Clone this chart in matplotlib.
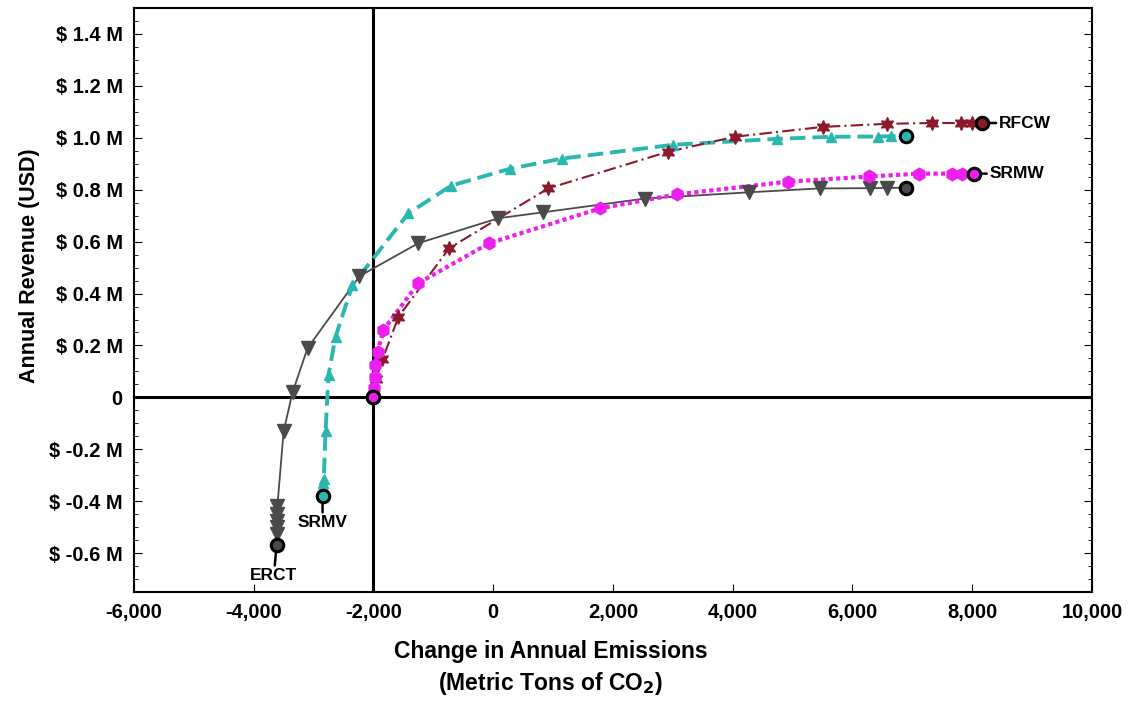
import matplotlib
matplotlib.use("Agg")
import matplotlib.pyplot as plt
from matplotlib.ticker import FixedLocator, MultipleLocator, FuncFormatter

plt.rcParams['font.family'] = ['Liberation Sans', 'DejaVu Sans']

# ERCT (gray, down triangles, solid)
erct_x = [-3617, -3615, -3612, -3610, -3608, -3605, -3500, -3350, -3100, -2233, -1250, 83, 833, 2533, 4267, 5450, 6300, 6583, 6900]
erct_y = [-0.567, -0.525, -0.50, -0.475, -0.45, -0.42, -0.13, 0.02, 0.19, 0.467, 0.594, 0.69, 0.713, 0.766, 0.79, 0.805, 0.806, 0.807, 0.808]

# SRMV (teal, dashed)
srmv_x = [-2850, -2845, -2840, -2835, -2830, -2800, -2750, -2633, -2350, -1417, -700, 283, 1150, 3000, 4733, 5650, 6433, 6650, 6900]
srmv_y = [-0.379, -0.36, -0.345, -0.33, -0.314, -0.13, 0.088, 0.234, 0.433, 0.709, 0.816, 0.881, 0.92, 0.973, 0.996, 1.004, 1.005, 1.006, 1.008]

# RFCW (dark red, dash-dot, stars)
rfcw_x = [-2000, -1960, -1850, -1583, -733, 917, 2917, 4033, 5500, 6583, 7333, 7817, 8000, 8167]
rfcw_y = [0.0, 0.07, 0.146, 0.31, 0.575, 0.805, 0.946, 1.004, 1.042, 1.054, 1.057, 1.057, 1.057, 1.057]

# SRMW (magenta, dotted)
srmw_x = [-2000, -1990, -1980, -1967, -1930, -1833, -1250, -67, 1783, 3067, 4917, 6283, 7117, 7667, 7833, 8033]
srmw_y = [0.0, 0.038, 0.08, 0.126, 0.176, 0.26, 0.44, 0.594, 0.728, 0.782, 0.831, 0.851, 0.862, 0.862, 0.862, 0.862]

x_ticks = [-6000, -4000, -2000, 0, 2000, 4000, 6000, 8000, 10000]
y_ticks = [-0.6, -0.4, -0.2, 0.0, 0.2, 0.4, 0.6, 0.8, 1.0, 1.2, 1.4]

fig = plt.figure(figsize=(11.39, 7.04), dpi=100)
ax = fig.add_axes([0.1176, 0.159, 0.8411, 0.8296])

ax.axhline(0, color='black', lw=2.2, zorder=1)
ax.axvline(-2000, color='black', lw=2.2, zorder=1)

star6 = (6, 1, 0)
series = [
    ("ERCT", erct_x, erct_y, '#4a4a4a', '-', 1.3, 'v', 10.5),
    ("SRMV", srmv_x, srmv_y, '#2ab7b0', (0, (4, 1.8)), 2.8, '^', 7.5),
    ("RFCW", rfcw_x, rfcw_y, '#8b1a2b', (0, (6, 2, 1, 2)), 1.5, star6, 10),
    ("SRMW", srmw_x, srmw_y, '#ee1fee', (0, (1, 0.8)), 3.0, 'h', 9),
]
for name, xs, ys, col, ls, lw, mk, ms in series:
    ax.plot(xs, ys, linestyle=ls, lw=lw, color=col, zorder=2)
    ax.plot(xs[1:-1], ys[1:-1], linestyle='none', marker=mk, ms=ms, color=col, zorder=3)
    ax.plot([xs[0], xs[-1]], [ys[0], ys[-1]], 'o', ms=9, mfc=col, mec='black', mew=2.2,
            linestyle='none', zorder=4 if name != "SRMW" else 5)

lab_kw = dict(fontsize=12.5, fontweight='bold', textcoords='offset points',
              arrowprops=dict(arrowstyle='-', lw=1.8, color='black', shrinkA=0, shrinkB=3))
ax.annotate("ERCT", xy=(erct_x[0], erct_y[0]), xytext=(-2, -17), ha='center', va='top', **lab_kw)
ax.annotate("SRMV", xy=(srmv_x[0], srmv_y[0]), xytext=(0, -14), ha='center', va='top', **lab_kw)
ax.annotate("RFCW", xy=(rfcw_x[-1], rfcw_y[-1]), xytext=(12, 0), ha='left', va='center', **lab_kw)
ax.annotate("SRMW", xy=(srmw_x[-1], srmw_y[-1]), xytext=(11, 0), ha='left', va='center', **lab_kw)

ax.set_xlim(-6000, 10000)
ax.set_ylim(-0.75, 1.5)
ax.xaxis.set_major_locator(FixedLocator(x_ticks))
ax.yaxis.set_major_locator(FixedLocator(y_ticks))
ax.yaxis.set_minor_locator(MultipleLocator(0.05))
ax.xaxis.set_major_formatter(FuncFormatter(lambda v, p: f"{v:,.0f}"))
ax.yaxis.set_major_formatter(FuncFormatter(lambda v, p: "0" if abs(v) < 1e-9 else f"$ {v:.1f} M"))
ax.tick_params(axis='both', which='both', direction='in')
ax.tick_params(axis='y', which='both', left=True, right=True)
ax.tick_params(axis='x', which='both', top=False)
ax.tick_params(axis='both', which='major', length=6, labelsize=14.5, pad=8)
ax.tick_params(axis='y', which='minor', length=3)
for lbl in ax.get_xticklabels() + ax.get_yticklabels():
    lbl.set_fontweight('bold')
for sp in ax.spines.values():
    sp.set_linewidth(1.5)

ax.set_xlabel("Change in Annual Emissions\n(Metric Tons of CO$_\\mathbf{2}$)", fontsize=16.5,
              fontweight='bold', labelpad=12, linespacing=1.35)
ax.xaxis.set_label_coords(0.435, -0.082, transform=ax.transAxes)
ax.xaxis.label.set_va('top')
ax.set_ylabel("Annual Revenue (USD)", fontsize=15.5, fontweight='bold')
ax.yaxis.set_label_coords(-0.098, 0.558, transform=ax.transAxes)

fig.savefig("out.png", dpi=100)
